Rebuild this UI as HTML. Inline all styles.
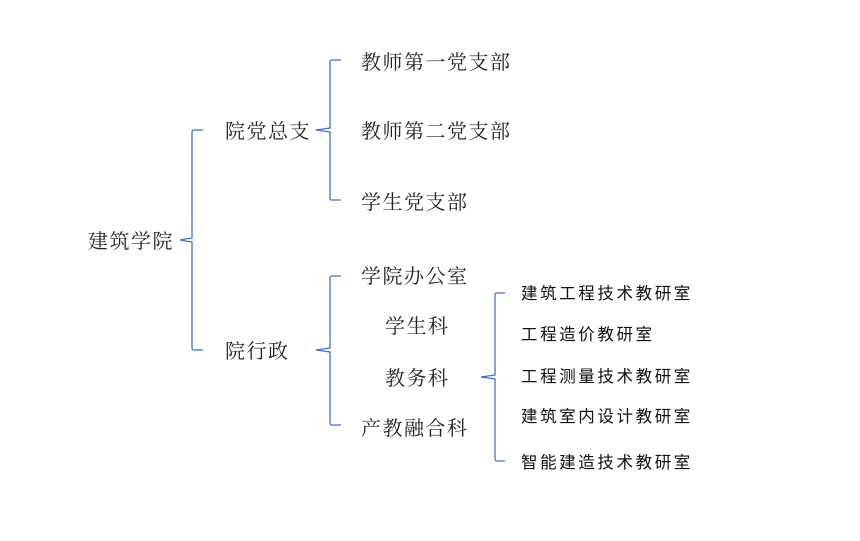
<!DOCTYPE html>
<html><head><meta charset="utf-8"><style>
body{margin:0;width:860px;height:541px;background:#fff;position:relative;overflow:hidden}
.t{position:absolute;font-family:"Liberation Serif","Noto Serif CJK SC",serif;font-size:20px;letter-spacing:1.5px;color:#222;line-height:24px;white-space:nowrap}
.s{position:absolute;font-family:"Liberation Sans","Noto Sans CJK SC",sans-serif;font-size:16.5px;letter-spacing:2.6px;color:#111;line-height:20px;white-space:nowrap}
svg{position:absolute;left:0;top:0}
</style></head><body>
<svg width="860" height="541"><g fill="none" stroke="#4472c4" stroke-width="1.3">
<path d="M203 130 H194 Q192 130 192 132 V238 L180 240 L192 242 V348 Q192 350 194 350 H203"/>
<path d="M341 60 H332 Q330 60 330 62 V128 L316 130 L330 132 V198 Q330 200 332 200 H341"/>
<path d="M341 276 H332 Q330 276 330 278 V348 L316 350 L330 352 V423 Q330 425 332 425 H341"/>
<path d="M505 293 H497 Q495 293 495 295 V375 L481 377 L495 379 V459 Q495 461 497 461 H505"/>
</g></svg>
<div class="t" style="left:88px;top:230px">建筑学院</div>
<div class="t" style="left:225px;top:120px">院党总支</div>
<div class="t" style="left:225px;top:340px">院行政</div>
<div class="t" style="left:361px;top:51px">教师第一党支部</div>
<div class="t" style="left:361px;top:120px">教师第二党支部</div>
<div class="t" style="left:361px;top:191px">学生党支部</div>
<div class="t" style="left:361px;top:265px">学院办公室</div>
<div class="t" style="left:385px;top:315px">学生科</div>
<div class="t" style="left:385px;top:367px">教务科</div>
<div class="t" style="left:361px;top:417px">产教融合科</div>
<div class="s" style="left:521px;top:284px">建筑工程技术教研室</div>
<div class="s" style="left:521px;top:325px">工程造价教研室</div>
<div class="s" style="left:521px;top:367px">工程测量技术教研室</div>
<div class="s" style="left:521px;top:407px">建筑室内设计教研室</div>
<div class="s" style="left:521px;top:453px">智能建造技术教研室</div>
</body></html>
